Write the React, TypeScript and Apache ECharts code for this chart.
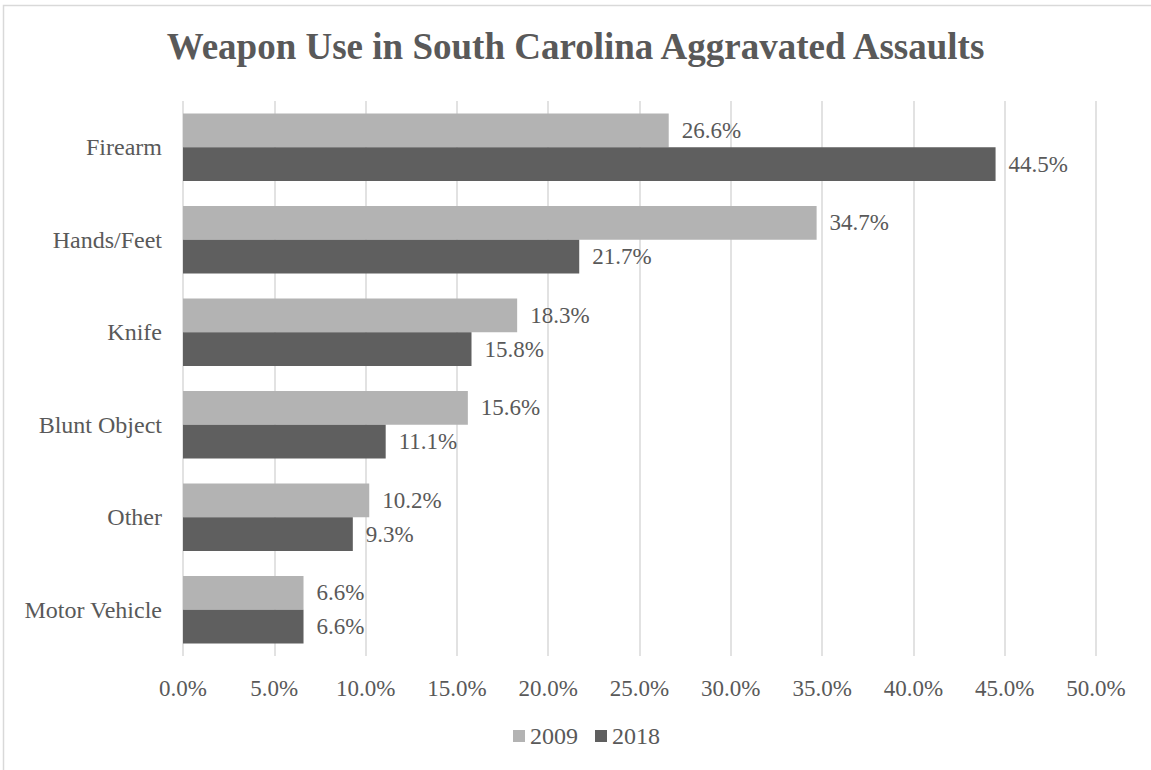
import React, { useEffect, useRef } from "react";
import * as echarts from "echarts";

const categories = ["Firearm", "Hands/Feet", "Knife", "Blunt Object", "Other", "Motor Vehicle"];
const series2009 = [26.6, 34.7, 18.3, 15.6, 10.2, 6.6];
const series2018 = [44.5, 21.7, 15.8, 11.1, 9.3, 6.6];
const seriesNames = ["2009", "2018"];
const title = "Weapon Use in South Carolina Aggravated Assaults";

const FONT = "'Liberation Serif', 'Times New Roman', serif";
const TEXT = "#595959";

export default function App() {
  const ref = useRef<HTMLDivElement>(null);
  useEffect(() => {
    if (!ref.current) return;
    const chart = echarts.init(ref.current, null, { renderer: "svg" });
    const labelCfg = {
      show: true,
      position: "right",
      distance: 13,
      color: TEXT,
      fontFamily: FONT,
      fontSize: 23,
      formatter: (p: any) => p.value.toFixed(1) + "%",
    };
    chart.setOption({
      animation: false,
      backgroundColor: "#ffffff",
      textStyle: { fontFamily: FONT },
      title: {
        text: title,
        left: "center",
        top: 23,
        textStyle: { fontFamily: FONT, fontWeight: "bold", fontSize: 37, color: TEXT },
      },
      legend: {
        data: seriesNames,
        bottom: 17,
        left: 508,
        itemWidth: 12,
        itemHeight: 12,
        itemGap: 17,
        icon: "rect",
        textStyle: { fontFamily: FONT, fontSize: 24, color: TEXT },
      },
      grid: { left: 183, right: 55, top: 101, bottom: 114, containLabel: false },
      xAxis: {
        type: "value",
        min: 0,
        max: 50,
        interval: 5,
        axisLine: { show: false },
        axisTick: { show: false },
        splitLine: { show: true, lineStyle: { color: "#d9d9d9", width: 1.5 } },
        axisLabel: {
          color: TEXT,
          fontFamily: FONT,
          fontSize: 23,
          margin: 21,
          formatter: (v: number) => v.toFixed(1) + "%",
        },
      },
      yAxis: {
        type: "category",
        data: categories,
        inverse: true,
        axisLine: { show: false },
        axisTick: { show: false },
        axisLabel: { color: TEXT, fontFamily: FONT, fontSize: 24, margin: 21 },
      },
      series: [
        {
          name: seriesNames[0],
          type: "bar",
          data: series2009,
          itemStyle: { color: "#b3b3b3" },
          barGap: "0%",
          barCategoryGap: "27%",
          label: labelCfg,
        },
        {
          name: seriesNames[1],
          type: "bar",
          data: series2018,
          itemStyle: { color: "#5f5f5f" },
          barGap: "0%",
          barCategoryGap: "27%",
          label: labelCfg,
        },
      ],
      graphic: [
        {
          type: "rect",
          shape: { x: 3.5, y: 5.5, width: 1170, height: 790 },
          style: { fill: "none", stroke: "#d9d9d9", lineWidth: 1.5 },
          silent: true,
        },
      ],
    });
    return () => chart.dispose();
  }, []);
  return (
    <div
      ref={ref}
      style={{ position: "fixed", left: 0, top: 0, width: 1151, height: 770 }}
    />
  );
}
